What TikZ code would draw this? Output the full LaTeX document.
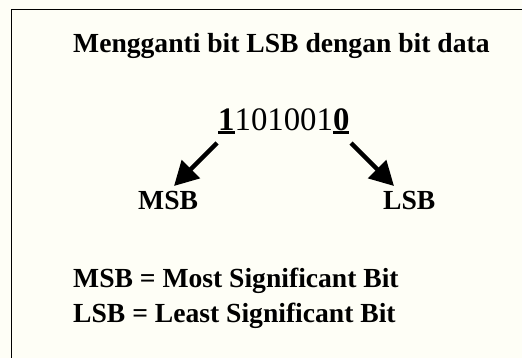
\documentclass[tikz,border=0pt]{standalone}
\usepackage{fontspec}
\setmainfont{Liberation Serif}
\usetikzlibrary{arrows.meta}
\definecolor{bgcream}{HTML}{FEFEF6}
\newsavebox{\bitbox}
\newcommand\ulbit[1]{\sbox{\bitbox}{\bfseries #1}\rlap{\rule[-3.5pt]{\wd\bitbox}{3pt}}\usebox{\bitbox}}
\tikzset{
  lbl/.style={anchor=base west, inner sep=0pt, font=\fontsize{27.6}{32}\selectfont\bfseries},
  bits/.style={anchor=base west, inner sep=0pt, font=\fontsize{32.8}{38}\selectfont},
  bigarrow/.style={line width=4.5pt, -{Triangle[width=25pt,length=24pt]}},
  frame/.style={line width=1.6pt, black}
}
\begin{document}
\begin{tikzpicture}[x=1pt,y=-1pt]
\useasboundingbox (0,0) rectangle (522,358);
\fill[bgcream] (0,0) rectangle (522,358);
\coordinate (fl) at (11.5,358);
\coordinate (ftl) at (11.5,9.5);
\coordinate (fr) at (522,9.5);
\draw[frame] (fl) -- (ftl) -- (fr);
\node[lbl] (title) at (73,53) {Mengganti bit LSB dengan bit data};
\node[bits] (num) at (218,131) {\ulbit{1}101001\ulbit{0}};
\node[lbl] (msb) at (138,210) {MSB};
\node[lbl] (lsb) at (383,210) {LSB};
\coordinate (a1s) at (217,143);
\coordinate (a1e) at (174,186);
\coordinate (a2s) at (351,143);
\coordinate (a2e) at (394,186);
\draw[bigarrow] (a1s) -- (a1e);
\draw[bigarrow] (a2s) -- (a2e);
\node[lbl] (def1) at (73,287) {MSB = Most Significant Bit};
\node[lbl] (def2) at (73,322) {LSB = Least Significant Bit};
\end{tikzpicture}
\end{document}
